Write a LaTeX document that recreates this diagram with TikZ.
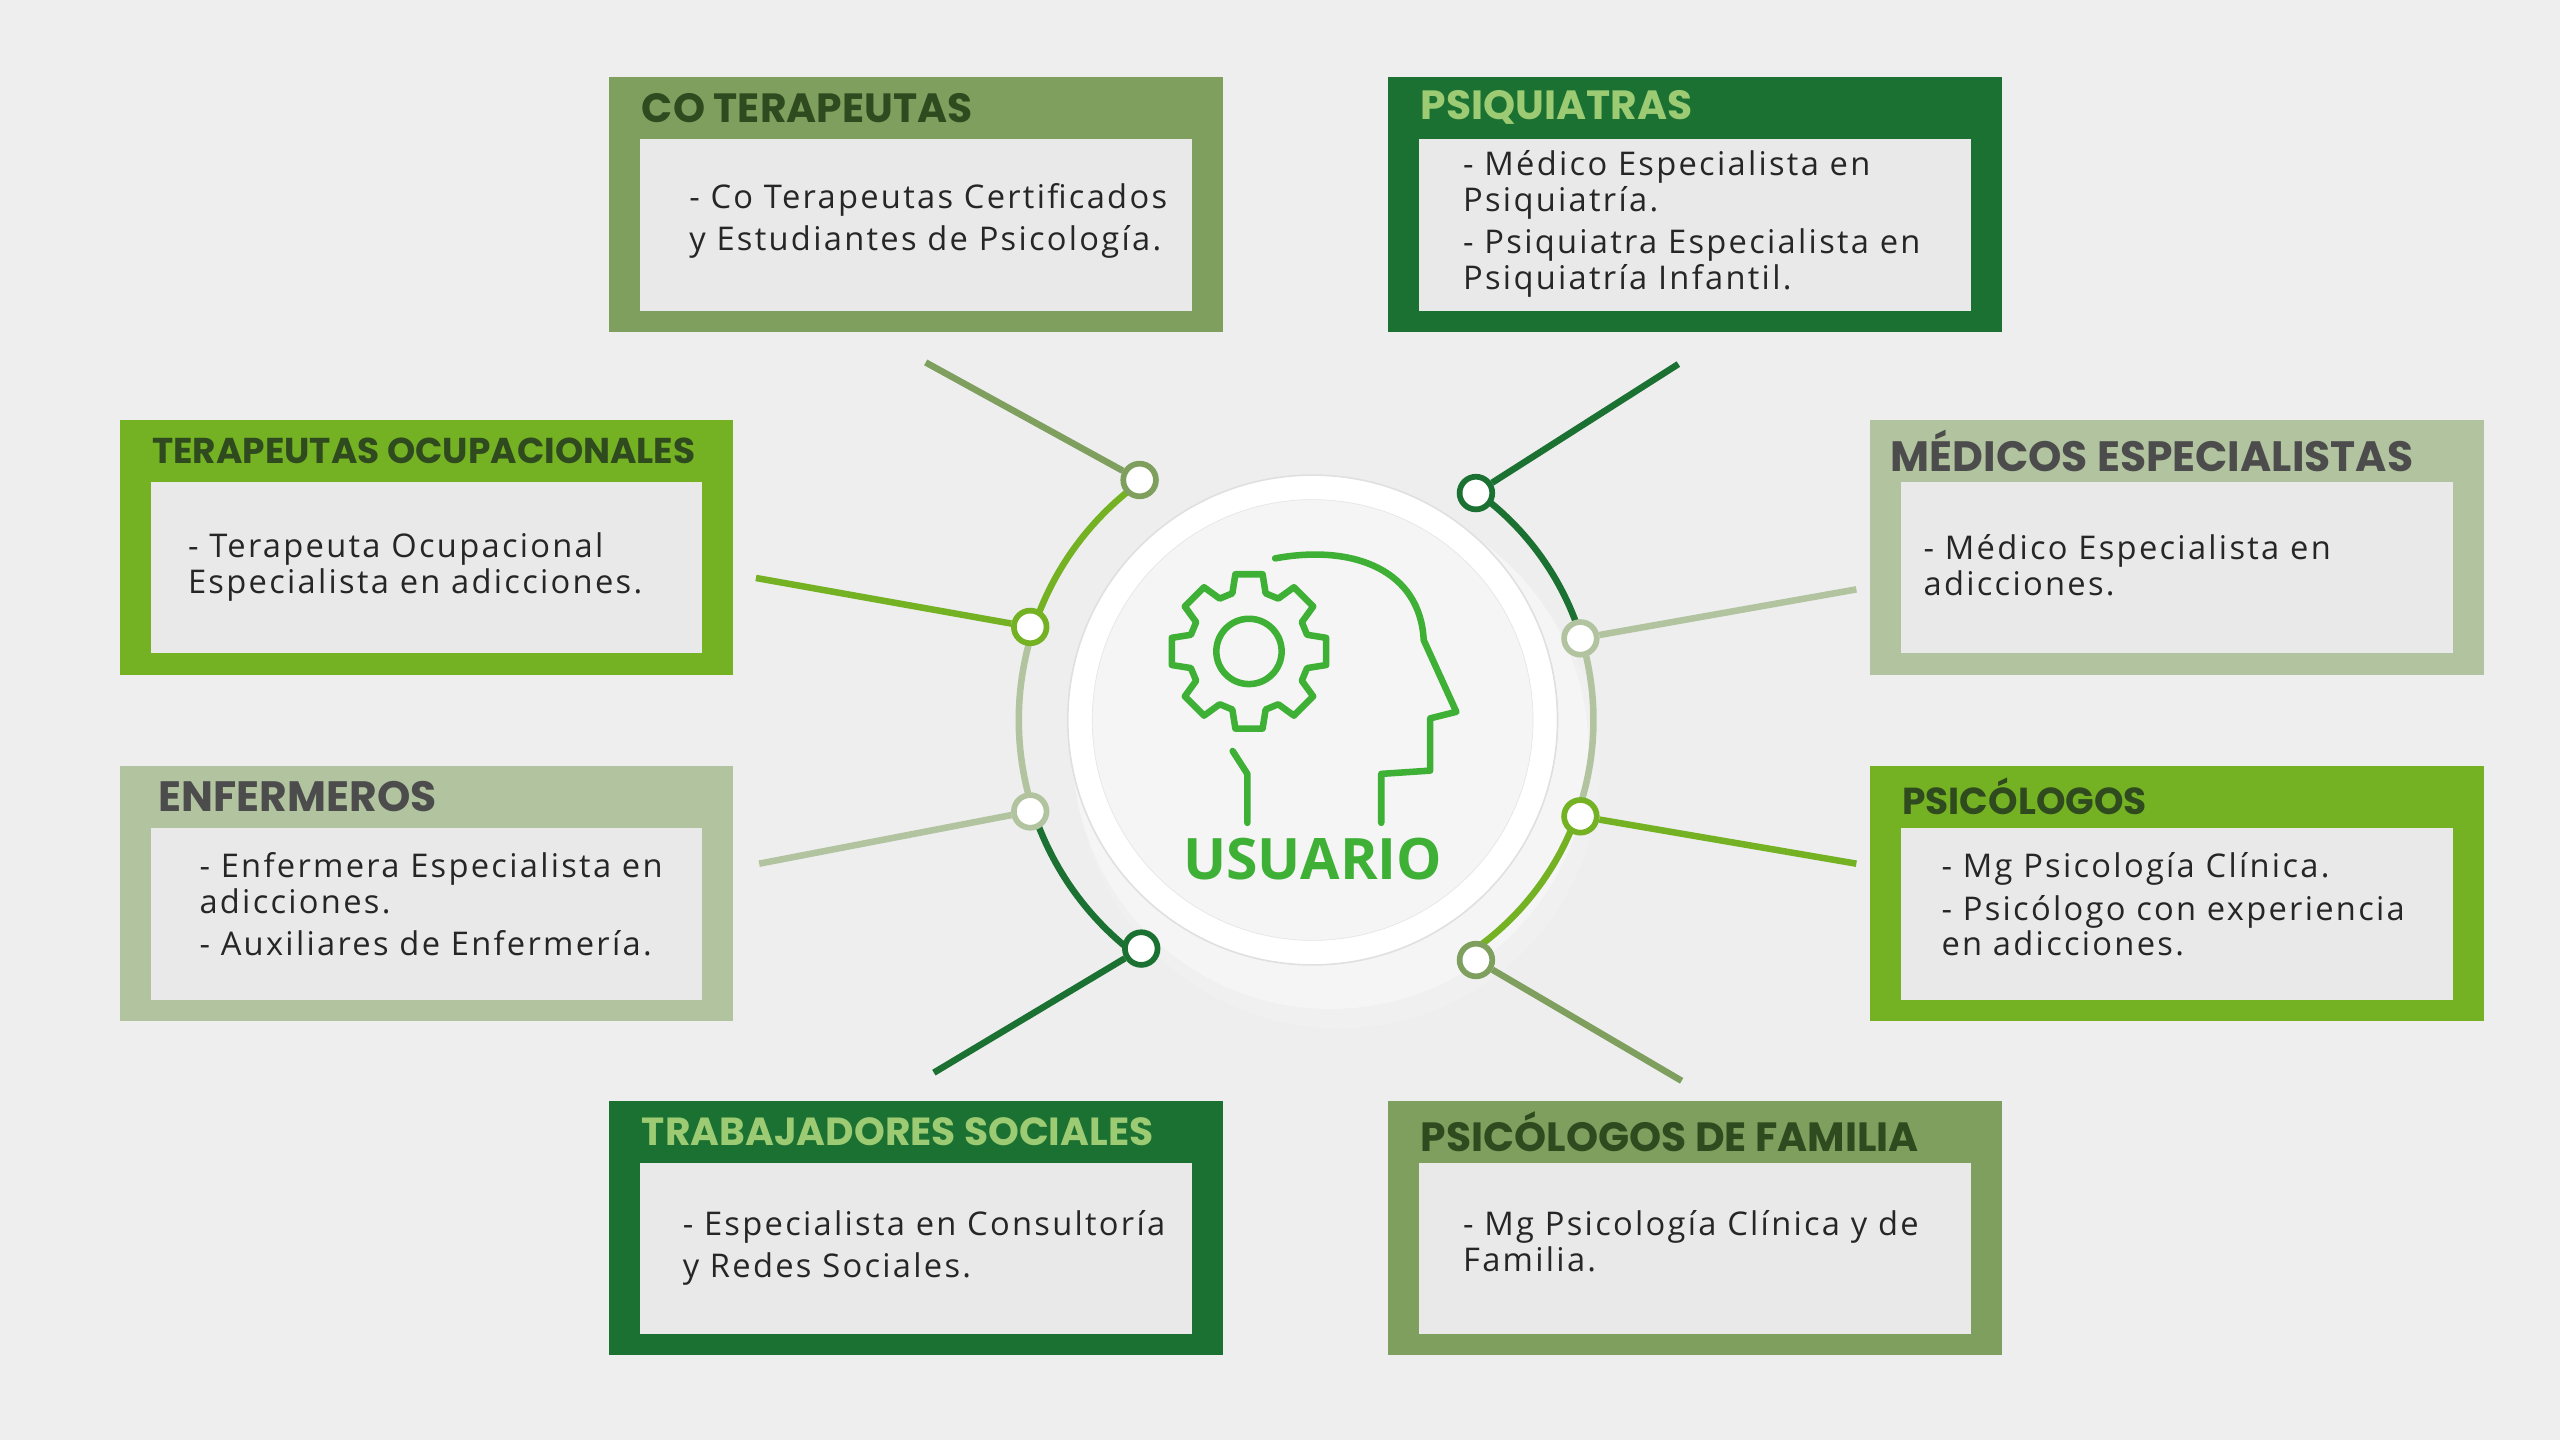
\documentclass[tikz,border=0pt]{standalone}
\usepackage{fontspec}
\setmainfont[LetterSpace=7]{Open Sans}
\newfontfamily\ttl{Poppins}
\newfontfamily\usu{Open Sans}
\begin{document}
\definecolor{bg}{HTML}{EEEEEE}
\definecolor{inner}{HTML}{E9E9EA}
\definecolor{olive}{HTML}{7F9F5F}
\definecolor{dark}{HTML}{1B7131}
\definecolor{bright}{HTML}{74B224}
\definecolor{sage}{HTML}{B1C49F}
\definecolor{darkt}{HTML}{2E4A1E}
\definecolor{lightt}{HTML}{9DCB74}
\definecolor{icon}{HTML}{3DB035}
\newcommand{\ts}[1]{\fontsize{#1}{#1}\selectfont}
\begin{tikzpicture}[x=1pt,y=-1pt,
 ttlstyle/.style={anchor=west,font=\ttl\bfseries,inner sep=0},
 body/.style={anchor=north west,align=left,font=\fontsize{20}{22}\selectfont,inner sep=0,text=black!85},
 conn/.style={line width=4pt},
 dot/.style={circle,draw,line width=3.5pt,fill=white,minimum size=20pt,inner sep=0}]
\fill[bg] (0,0) rectangle (1568,882);
\useasboundingbox (0,0) rectangle (1568,882);
\newcommand{\card}[9]{%
 \node[fill=#4,minimum width=376pt,minimum height=156pt,anchor=north west,inner sep=0] (#1) at (#2,#3) {};
 \node[fill=inner,minimum width=338pt,minimum height=105pt,anchor=north west,inner sep=0] (#1i) at (#2+19,#3+38) {};
 \node[ttlstyle,text=#5] (#1t) at (#2+20,#3+19) {#6};
 \node[body] (#1b) at (#7,#8+4) {#9};}
\card{co}{373}{47}{olive}{darkt}{\ts{25}CO TERAPEUTAS}{422}{108}{- Co Terapeutas Certificados\\[4pt]y Estudiantes de Psicología.}
\card{ps}{850}{47}{dark}{lightt}{\ts{25}PSIQUIATRAS}{896}{88}{- Médico Especialista en\\Psiquiatría.\\[4pt]- Psiquiatra Especialista en\\Psiquiatría Infantil.}
\card{to}{73}{257}{bright}{darkt}{\ts{22}TERAPEUTAS OCUPACIONALES}{115}{322}{- Terapeuta Ocupacional\\Especialista en adicciones.}
\card{me}{1145}{257}{sage}{black!70}{\hspace{-7pt}\ts{26}MÉDICOS ESPECIALISTAS}{1178}{323}{- Médico Especialista en\\adicciones.}
\card{en}{73}{469}{sage}{black!70}{\hspace{4pt}\ts{26}ENFERMEROS}{122}{518}{- Enfermera Especialista en\\adicciones.\\[4pt]- Auxiliares de Enfermería.}
\card{pc}{1145}{469}{bright}{darkt}{\ts{23}PSICÓLOGOS}{1189}{518}{- Mg Psicología Clínica.\\[4pt]- Psicólogo con experiencia\\en adicciones.}
\card{tr}{373}{674}{dark}{lightt}{\ts{24}TRABAJADORES SOCIALES}{418}{737}{- Especialista en Consultoría\\[4pt]y Redes Sociales.}
\card{pf}{850}{674}{olive}{darkt}{\ts{25}PSICÓLOGOS DE FAMILIA}{896}{737}{- Mg Psicología Clínica y de\\Familia.}
% shadow
\fill[black!6] (820,470) circle (160);
\fill[black!4] (815,460) circle (158);
% ring arcs
\coordinate (c) at (804,441);
\draw[bright,line width=4pt] (c) ++(235:180) arc[start angle=235,end angle=198,radius=180];
\draw[sage,line width=4pt] (c) ++(198:180) arc[start angle=198,end angle=162,radius=180];
\draw[dark,line width=4pt] (c) ++(162:180) arc[start angle=162,end angle=127,radius=180];
\draw[dark,line width=4pt] (c) ++(306:172) arc[start angle=306,end angle=343,radius=172];
\draw[sage,line width=4pt] (c) ++(343:172) arc[start angle=343,end angle=378,radius=172];
\draw[bright,line width=4pt] (c) ++(18:172) arc[start angle=18,end angle=54,radius=172];
\node[circle,fill=white,draw=black!12,line width=1pt,minimum size=300pt] (outer) at (804,441) {};
\node[circle,fill=black!4,draw=black!10,minimum size=270pt] (u) at (804,441) {};
% dots
\node[dot,draw=olive] (d1) at (698,294) {};
\node[dot,draw=bright] (d2) at (631,384) {};
\node[dot,draw=sage] (d3) at (631,497) {};
\node[dot,draw=dark] (d4) at (699,581) {};
\node[dot,draw=dark] (d5) at (904,302) {};
\node[dot,draw=sage] (d6) at (968,391) {};
\node[dot,draw=bright] (d7) at (968,500) {};
\node[dot,draw=olive] (d8) at (904,588) {};
\coordinate (e1) at (567,222); \coordinate (e2) at (463,354);
\coordinate (e3) at (465,529); \coordinate (e4) at (572,657);
\coordinate (e5) at (1028,223); \coordinate (e6) at (1137,361);
\coordinate (e7) at (1137,529); \coordinate (e8) at (1030,662);
\draw[conn,olive] (d1) -- (e1); \draw[conn,bright] (d2) -- (e2);
\draw[conn,sage] (d3) -- (e3); \draw[conn,dark] (d4) -- (e4);
\draw[conn,dark] (d5) -- (e5); \draw[conn,sage] (d6) -- (e6);
\draw[conn,bright] (d7) -- (e7); \draw[conn,olive] (d8) -- (e8);
% icon
\begin{scope}[icon,line width=4pt,line join=round,line cap=round]
\draw (765,399) circle (20);
\draw[shift={(765,399)}] (-10:48) \foreach \a in {0,45,...,315}{ -- (\a-10:48) -- (\a+10:48) -- (\a+16:37) -- (\a+29:37)} -- cycle;
\draw (781,342) .. controls (830,333) and (870,350) .. (872,392) -- (892,436) -- (876,440) -- (876,472) -- (846,474) -- (846,504);
\draw (755,460) -- (764,474) -- (764,504);
\end{scope}
\node[font=\usu\bfseries\fontsize{35}{36}\selectfont,text=icon,inner sep=0] (ut) at (804,526) {USUARIO};
\end{tikzpicture}
\end{document}
